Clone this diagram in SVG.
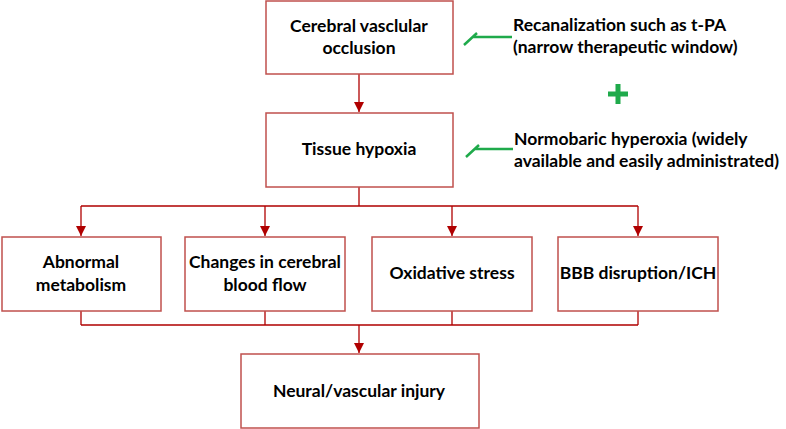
<svg xmlns="http://www.w3.org/2000/svg" width="786" height="429" viewBox="0 0 786 429">
<defs>
<style>
.box{fill:#fff;stroke:#c0504d;stroke-width:1.5}
.t{font-family:Lato,"Liberation Sans",sans-serif;font-weight:bold;font-size:17.5px;fill:#000;text-anchor:middle}
.r{font-family:Lato,"Liberation Sans",sans-serif;font-weight:bold;font-size:17.5px;fill:#000}
.c{fill:none;stroke:#b00000;stroke-width:1.3}
.g{fill:none;stroke:#1faa4b;stroke-width:2.5}
</style>
<marker id="ah" viewBox="0 0 10 10" refX="10" refY="5" markerWidth="10" markerHeight="10" markerUnits="userSpaceOnUse" orient="auto">
<path d="M0,0 L10,5 L0,10 z" fill="#b00000"/>
</marker>
</defs>
<rect width="786" height="429" fill="#fff"/>
<g id="connectors">
<path class="c" d="M359,74 V112" marker-end="url(#ah)"/>
<path class="c" d="M359,187 V206 M81,206 H638"/>
<path class="c" d="M81,206 V236" marker-end="url(#ah)"/>
<path class="c" d="M265,206 V236" marker-end="url(#ah)"/>
<path class="c" d="M452,206 V236" marker-end="url(#ah)"/>
<path class="c" d="M638,206 V236" marker-end="url(#ah)"/>
<path class="c" d="M81,311 V325 M265,311 V325 M452,311 V325 M638,311 V325 M81,325 H638"/>
<path class="c" d="M359,325 V353" marker-end="url(#ah)"/>
</g>
<g id="n1"><rect class="box" x="266" y="1" width="187" height="73"/>
<text class="t" x="359" y="32">Cerebral vasclular</text><text class="t" x="359" y="54">occlusion</text></g>
<g id="n2"><rect class="box" x="266" y="113" width="187" height="74"/>
<text class="t" x="359" y="155">Tissue hypoxia</text></g>
<g id="n3"><rect class="box" x="2" y="237" width="159" height="74"/>
<text class="t" x="81" y="268">Abnormal</text><text class="t" x="81" y="291">metabolism</text></g>
<g id="n4"><rect class="box" x="185" y="237" width="160" height="74"/>
<text class="t" x="265" y="268">Changes in cerebral</text><text class="t" x="265" y="291">blood flow</text></g>
<g id="n5"><rect class="box" x="372" y="237" width="160" height="74"/>
<text class="t" x="452" y="279">Oxidative stress</text></g>
<g id="n6"><rect class="box" x="558" y="237" width="160" height="74"/>
<text class="t" x="638" y="279">BBB disruption/ICH</text></g>
<g id="n7"><rect class="box" x="241" y="354" width="238" height="74"/>
<text class="t" x="359" y="397">Neural/vascular injury</text></g>
<g id="treatments">
<path class="g" d="M512,37 H472 M477,33 L464,45"/>
<text class="r" x="513" y="31">Recanalization such as t-PA</text>
<text class="r" x="513" y="53">(narrow therapeutic window)</text>
<path d="M618,84 V104 M608,94 H628" stroke="#1faa4b" stroke-width="5" fill="none"/>
<path class="g" d="M513,149 H474 M479,145 L466,157"/>
<text class="r" x="514" y="145">Normobaric hyperoxia (widely</text>
<text class="r" x="514" y="167">available and easily administrated)</text>
</g>
</svg>
